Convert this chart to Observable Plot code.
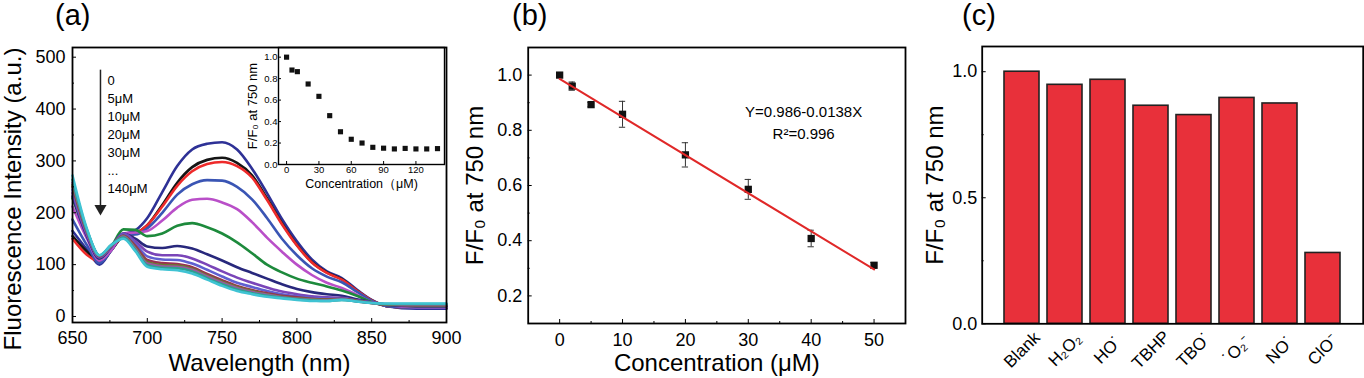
<!DOCTYPE html>
<html><head><meta charset="utf-8">
<script src="https://cdn.jsdelivr.net/npm/d3@7"></script>
<script src="https://cdn.jsdelivr.net/npm/@observablehq/plot@0.6"></script>
<style>
body{margin:0;background:#fff;width:1364px;height:378px;overflow:hidden;position:relative;font-family:'Liberation Sans',Arial,sans-serif;color:#000;}
.panel{position:absolute;top:0;}
.tag{position:absolute;top:1px;font-size:29px;line-height:1;font-family:'Liberation Sans',Arial,sans-serif;}
</style></head><body>
<div id="a" class="panel" style="left:0px"></div>
<div id="inset" class="panel" style="left:240px;top:40px"></div>
<div id="b" class="panel" style="left:455px"></div>
<div id="c" class="panel" style="left:910px"></div>
<div class="tag" style="left:55px">(a)</div>
<div class="tag" style="left:512px">(b)</div>
<div class="tag" style="left:962px">(c)</div>
<script>
// ---------- Panel (a): emission spectra ----------
const wavelengths = [650,660,668,676,684,692,700,710,720,730,740,750,760,770,780,790,800,810,820,830,840,850,860,880,900];
const concLabels = ["0","5","10","20","30","40","50","60","70","80","90","100","120","140"];
const seriesColors = ["#2e3196","#151515","#ee2a2a","#3a55b4","#b94fc8","#1d8a3c","#28287c","#7a45b8","#5f5fd0","#9a3050","#6a7a30","#9a5aa0","#2f9f8f","#3fc3d3"];
const spectra = [
  [165,128,100,128,158,166,190,240,290,322,333,336,322,285,238,188,145,110,87,74,52,32,20,15,15],
  [155,124,104,128,155,160,176,215,258,288,302,306,296,272,228,180,138,105,85,72,50,31,20,17,17],
  [150,118,106,130,155,160,176,212,252,280,294,298,290,268,225,178,137,104,84,71,50,31,20,17,17],
  [187,136,103,128,158,158,170,200,235,255,263,262,250,226,190,150,118,93,77,66,48,30,20,17,17],
  [212,148,108,128,160,162,165,185,210,225,227,220,207,182,152,125,100,80,65,55,42,28,22,18,18],
  [228,156,112,135,168,167,155,160,175,180,172,160,143,122,100,85,73,65,58,50,40,28,22,20,20],
  [232,152,112,135,160,150,135,132,136,131,120,108,95,84,73,62,53,47,43,40,33,27,22,20,20],
  [238,155,114,135,160,145,125,118,118,112,100,87,75,65,56,48,43,39,37,36,31,27,23,21,21],
  [244,158,115,135,158,140,116,110,109,102,90,77,65,57,49,43,39,36,34,35,30,27,23,22,22],
  [250,160,116,136,156,136,109,103,101,95,82,70,59,51,45,40,37,34,33,34,30,26,23,22,22],
  [254,162,117,137,155,133,105,99,98,92,79,67,57,49,43,38,35,33,32,33,30,26,23,22,22],
  [258,163,117,137,154,131,102,97,96,90,77,65,55,47,42,37,34,32,31,33,29,26,24,23,23],
  [264,164,118,138,152,128,99,94,93,87,74,62,52,45,40,36,33,31,30,32,29,26,24,24,24],
  [272,166,118,138,150,126,96,91,89,83,71,59,49,43,38,35,32,30,30,32,29,26,25,25,25]
];
const aXTicks = [650,700,750,800,850,900];
const aXMinor = [675,725,775,825,875];
const aYTicks = [0,100,200,300,400,500];
const aYMinor = [50,150,250,350,450];
const legendLabels = ["0","5μM","10μM","20μM","30μM","...","140μM"];
const arrowWavelength = 668.7, arrowTop = 475, arrowTip = 200;
const legendX = 673.4, legendTop = 455, legendStep = 34.7;

// ---------- Inset ----------
const insetConc = [0,5,10,20,30,40,50,60,70,80,90,100,110,120,130,140];
const insetRatio = [1.0,0.88,0.865,0.75,0.635,0.455,0.305,0.235,0.2,0.16,0.152,0.145,0.15,0.145,0.145,0.148];
const insetXTicks = [0,30,60,90,120];
const insetYTicks = [0,0.2,0.4,0.6,0.8,1.0];

// ---------- Panel (b): linear fit ----------
const concB = [0,2,5,10,20,30,40,50];
const ratioB = [1.0,0.96,0.893,0.858,0.711,0.586,0.408,0.311];
const errB = [0.008,0.015,0.008,0.047,0.044,0.036,0.03,0.01];
const fitIntercept = 0.986, fitSlope = -0.0138, fitRange = [0,50];
const bXTicks = [0,10,20,30,40,50];
const bXMinor = [5,15,25,35,45];
const bYTicks = [0.2,0.4,0.6,0.8,1.0];
const bYMinor = [0.3,0.5,0.7,0.9];
const equationText = ["Y=0.986-0.0138X","R²=0.996"];
const equationX = 38.8, equationY = [0.866,0.787];

// ---------- Panel (c): selectivity ----------
const species = ["Blank","H₂O₂","HO˙","TBHP","TBO˙","˙O₂⁻","NO˙","ClO⁻"];
const ratioC = [1.0,0.948,0.968,0.865,0.828,0.896,0.874,0.281];
const cYTicks = [0,0.5,1.0];
const cYMinor = [0.25,0.75];

const FONT = "'Liberation Sans', Arial, sans-serif";
const baseStyle = {fontFamily: FONT, fontSize: "18px", color: "black", background: "transparent", overflow: "visible"};
const yTitle = (t, dx, size, dy = 0) => Plot.text([t], {text: d => d, frameAnchor: "left", dx, dy, rotate: -90, textAnchor: "middle", lineAnchor: "middle", fontSize: size});
const xTitle = (t, dy, size) => Plot.text([t], {text: d => d, frameAnchor: "bottom", dy, textAnchor: "middle", lineAnchor: "middle", fontSize: size});

const spectraRows = spectra.flatMap((vals, s) => vals.map((v, i) => ({wl: wavelengths[i], intensity: v, conc: concLabels[s], color: seriesColors[s]})));

const plotA = Plot.plot({
  width: 460, height: 378, marginLeft: 72, marginRight: 14, marginTop: 47, marginBottom: 56,
  style: baseStyle,
  x: {domain: [650, 900], label: null},
  y: {domain: [-11.6, 518.7], label: null},
  color: {type: "identity"},
  marks: [
    Plot.line(spectraRows, {x: "wl", y: "intensity", z: "conc", stroke: "color", strokeWidth: 2.6, curve: "monotone-x"}),
    Plot.ruleX([arrowWavelength], {x: d => d, y1: arrowTop, y2: arrowTip + 10, strokeWidth: 1.5, stroke: "#222"}),
    Plot.dot([arrowWavelength], {x: d => d, y: arrowTip + 8, symbol: "triangle", rotate: 180, r: 4.5, fill: "#222", stroke: "none"}),
    Plot.text(legendLabels, {text: d => d, x: legendX, y: (d, i) => legendTop - i * legendStep, textAnchor: "start", fontSize: 13}),
    Plot.frame({stroke: "black", strokeWidth: 1.8}),
    Plot.axisX(aXTicks, {tickSize: -4, tickPadding: 13, label: null, fontSize: 18}),
    Plot.axisX(aXMinor, {tickSize: -2, tickFormat: () => "", label: null}),
    Plot.axisY(aYTicks, {tickSize: -4, tickPadding: 11, label: null, fontSize: 18}),
    Plot.axisY(aYMinor, {tickSize: -2, tickFormat: () => "", label: null}),
    xTitle("Wavelength (nm)", 41, 24),
    yTitle("Fluorescence Intensity (a.u.)", -58.7, 24, 14)
  ]
});
document.getElementById("a").append(plotA);

const insetRows = insetConc.map((c, i) => ({c, r: insetRatio[i]}));
const plotInset = Plot.plot({
  width: 206, height: 152, marginLeft: 38, marginRight: 2, marginTop: 7, marginBottom: 28,
  style: {...baseStyle, fontSize: "9.5px"},
  x: {domain: [-7.5, 146.5], label: null},
  y: {domain: [0, 1.09], label: null},
  marks: [
    Plot.dot(insetRows, {x: "c", y: "r", symbol: "square", r: 2.9, fill: "#111", stroke: "none"}),
    Plot.frame({stroke: "black", strokeWidth: 1.4}),
    Plot.axisX(insetXTicks, {tickSize: -3, tickPadding: 5, label: null, fontSize: 9.5}),
    Plot.axisY(insetYTicks, {tickSize: -3, tickPadding: 4, tickFormat: d3.format(".1f"), label: null, fontSize: 9.5}),
    xTitle("Concentration（μM)", 19.5, 12.5),
    yTitle("F/F₀ at 750 nm", -26, 13)
  ]
});
document.getElementById("inset").append(plotInset);

const rowsB = concB.map((x, i) => ({x, y: ratioB[i], e: errB[i]}));
const fitRows = fitRange.map(x => ({x, y: fitIntercept + fitSlope * x}));
const plotB = Plot.plot({
  width: 455, height: 378, marginLeft: 72.7, marginRight: 5, marginTop: 47, marginBottom: 55,
  style: baseStyle,
  x: {domain: [-5, 55], label: null},
  y: {domain: [0.1, 1.1], label: null},
  marks: [
    Plot.ruleX(rowsB, {x: "x", y1: d => d.y - d.e, y2: d => d.y + d.e, stroke: "#333", strokeWidth: 1}),
    Plot.ruleY(rowsB, {y: d => d.y - d.e, x1: d => d.x - 0.5, x2: d => d.x + 0.5, stroke: "#333", strokeWidth: 1}),
    Plot.ruleY(rowsB, {y: d => d.y + d.e, x1: d => d.x - 0.5, x2: d => d.x + 0.5, stroke: "#333", strokeWidth: 1}),
    Plot.dot(rowsB, {x: "x", y: "y", symbol: "square", r: 4.1, fill: "#111", stroke: "none"}),
    Plot.line(fitRows, {x: "x", y: "y", stroke: "#e02828", strokeWidth: 2}),
    Plot.text(equationText, {text: d => d, x: equationX, y: (d, i) => equationY[i], fontSize: 15}),
    Plot.frame({stroke: "black", strokeWidth: 1.8}),
    Plot.axisX(bXTicks, {tickSize: -4, tickPadding: 14, label: null, fontSize: 18}),
    Plot.axisX(bXMinor, {tickSize: -2, tickFormat: () => "", label: null}),
    Plot.axisY(bYTicks, {tickSize: -4, tickPadding: 10, tickFormat: d3.format(".1f"), label: null, fontSize: 18}),
    Plot.axisY(bYMinor, {tickSize: -2, tickFormat: () => "", label: null}),
    xTitle("Concentration (μM)", 40, 24),
    yTitle("F/F₀ at 750 nm", -52.7, 24)
  ]
});
document.getElementById("b").append(plotB);

const rowsC = species.map((s, i) => ({s, v: ratioC[i]}));
const plotC = Plot.plot({
  width: 454, height: 378, marginLeft: 71.7, marginRight: 1.3, marginTop: 46, marginBottom: 54.7,
  style: baseStyle,
  x: {domain: species, paddingInner: 0.19, paddingOuter: 0.43, axis: null, label: null},
  y: {domain: [0, 1.1], label: null},
  marks: [
    Plot.barY(rowsC, {x: "s", y: "v", fill: "#e8303a", stroke: "#222", strokeWidth: 1.6}),
    Plot.frame({stroke: "black", strokeWidth: 1.8}),
    Plot.text(species, {text: d => d, x: d => d, frameAnchor: "bottom", dy: 26, rotate: -45, textAnchor: "middle", lineAnchor: "middle", fontSize: 17}),
    Plot.axisY(cYTicks, {tickSize: -4, tickPadding: 9, tickFormat: d3.format(".1f"), label: null, fontSize: 18}),
    Plot.axisY(cYMinor, {tickSize: -2, tickFormat: () => "", label: null}),
    yTitle("F/F₀ at 750 nm", -46.7, 24)
  ]
});
document.getElementById("c").append(plotC);
</script>
</body></html>
